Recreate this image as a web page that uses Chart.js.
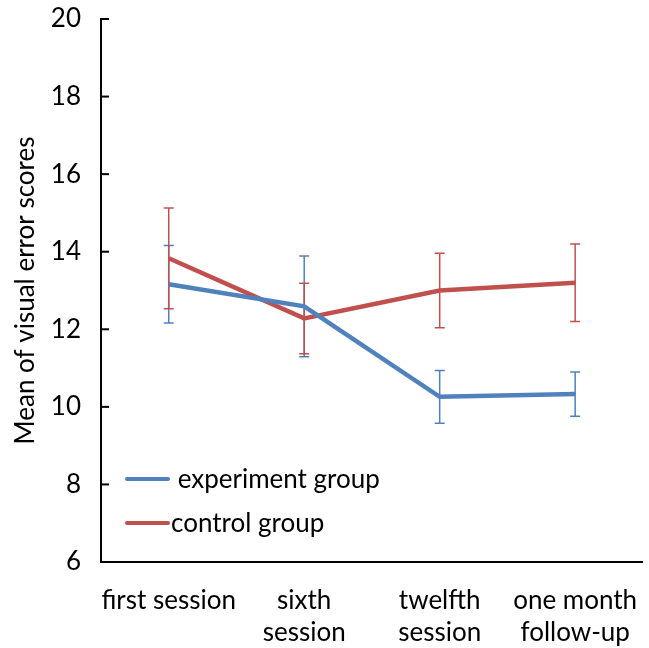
<!DOCTYPE html>
<html>
<head>
<meta charset="utf-8">
<script src="https://cdn.jsdelivr.net/npm/chart.js@4.4.1/dist/chart.umd.min.js"></script>
<style>
  html, body { margin: 0; padding: 0; background: #fff; overflow: hidden; }
  #wrap { width: 660px; height: 648px; }
</style>
</head>
<body>
<div id="wrap"><canvas id="myChart" width="660" height="648"></canvas></div>
<script>
'use strict';

let sessions = [['first session'], ['sixth', 'session'], ['twelfth', 'session'], ['one month', 'follow-up']];
let experimentMeans = [13.16, 12.59, 10.26, 10.33];
let experimentErr = [1.0, 1.3, 0.68, 0.57];
let controlMeans = [13.83, 12.28, 13.0, 13.2];
let controlErr = [1.3, 0.91, 0.96, 1.0];
let yTicks = [6, 8, 10, 12, 14, 16, 18, 20];

let blue = '#4F81BD';
let red = '#C0504D';
let font = 'Lato, "Open Sans", sans-serif';
let fontSize = 26;

// error bars, drawn under the lines
let errorBars = {
    id: 'errorBars',
    beforeDatasetsDraw(chart) {
        let ctx = chart.ctx;
        let x = chart.scales.x;
        let y = chart.scales.y;
        chart.data.datasets.forEach(function (ds) {
            ctx.save();
            ctx.strokeStyle = ds.borderColor;
            ctx.lineWidth = 1.5;
            for (let i = 0; i < ds.data.length; i++) {
                let px = x.getPixelForValue(i);
                let top = y.getPixelForValue(ds.data[i] + ds.err[i]);
                let bot = y.getPixelForValue(ds.data[i] - ds.err[i]);
                ctx.beginPath();
                ctx.moveTo(px, top); ctx.lineTo(px, bot);
                ctx.moveTo(px - 5, top); ctx.lineTo(px + 5, top);
                ctx.moveTo(px - 5, bot); ctx.lineTo(px + 5, bot);
                ctx.stroke();
            }
            ctx.restore();
        });
    }
};

// inward y ticks and legend inside the plot
let extras = {
    id: 'extras',
    afterDraw(chart) {
        let ctx = chart.ctx;
        let area = chart.chartArea;
        let y = chart.scales.y;
        ctx.save();
        ctx.strokeStyle = '#000';
        ctx.lineWidth = 2;
        yTicks.forEach(function (v) {
            let py = y.getPixelForValue(v);
            ctx.beginPath();
            ctx.moveTo(area.left, py);
            ctx.lineTo(area.left + 8, py);
            ctx.stroke();
        });

        ctx.font = fontSize + 'px ' + font;
        ctx.textBaseline = 'middle';
        ctx.fillStyle = '#000';
        ctx.lineWidth = 4;
        ctx.lineCap = 'round';
        let items = [
            { label: ' experiment group', color: blue, y: 479 },
            { label: 'control group', color: red, y: 523 }
        ];
        items.forEach(function (it) {
            ctx.strokeStyle = it.color;
            ctx.beginPath();
            ctx.moveTo(127, it.y);
            ctx.lineTo(168, it.y);
            ctx.stroke();
            ctx.fillText(it.label, 171, it.y + 1);
        });
        ctx.restore();
    }
};

let ctx = document.getElementById('myChart').getContext('2d');
let myChart = new Chart(ctx, {
    type: 'line',
    data: {
        labels: sessions,
        datasets: [{
            label: 'experiment group',
            data: experimentMeans,
            err: experimentErr,
            borderColor: blue,
            backgroundColor: blue,
            borderWidth: 4.5,
            pointRadius: 0,
            tension: 0
        }, {
            label: 'control group',
            data: controlMeans,
            err: controlErr,
            borderColor: red,
            backgroundColor: red,
            borderWidth: 4.5,
            pointRadius: 0,
            tension: 0
        }]
    },
    options: {
        responsive: false,
        animation: false,
        layout: { padding: { top: 19, right: 7, left: 0, bottom: 0 } },
        plugins: {
            legend: { display: false },
            tooltip: { enabled: false }
        },
        scales: {
            x: {
                offset: true,
                grid: { display: false, drawTicks: false },
                border: { display: true, color: '#000', width: 2 },
                ticks: { color: '#000', font: { family: font, size: fontSize, lineHeight: 1.25 }, padding: 22, maxRotation: 0 },
                afterFit(scale) { scale.height = 86; }
            },
            y: {
                min: 6,
                max: 20,
                grid: { display: false, drawTicks: false },
                border: { display: true, color: '#000', width: 2 },
                ticks: { stepSize: 2, color: '#000', font: { family: font, size: fontSize }, padding: 20 },
                title: {
                    display: true,
                    text: 'Mean of visual error scores',
                    color: '#000',
                    font: { family: font, size: fontSize },
                    padding: { top: 10, bottom: 8 }
                },
                afterFit(scale) {
                    scale.width = 101;
                    scale.paddingTop = 0;
                }
            }
        }
    },
    plugins: [errorBars, extras]
});
</script>
</body>
</html>
